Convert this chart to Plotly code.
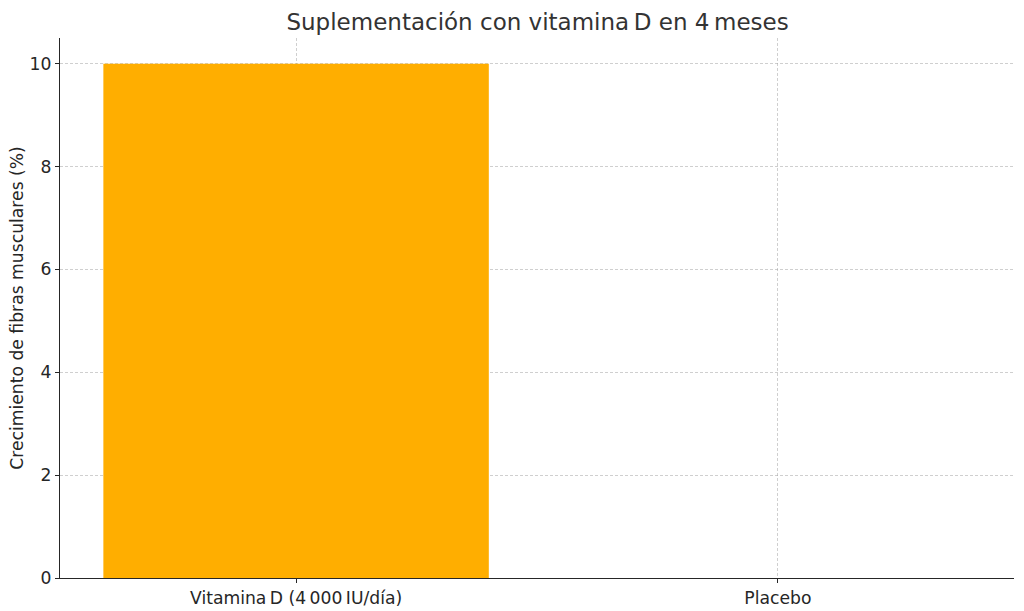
import plotly.graph_objects as go

NNBSP = "\u202f"  # narrow no-break space, as in the original labels

categories = [f"Vitamina{NNBSP}D (4{NNBSP}000{NNBSP}IU/día)", "Placebo"]
growth_pct = [10, 0]
y_ticks = [0, 2, 4, 6, 8, 10]

title = f"Suplementación con vitamina{NNBSP}D en 4{NNBSP}meses"
y_title = "Crecimiento de fibras musculares (%)"

fig = go.Figure(
    go.Bar(
        x=[0, 1], y=growth_pct, width=0.8,
        marker=dict(color="#FFAE00", line=dict(width=0)),
    )
)

# grid is drawn over the bars, semi-transparent
axis_common = dict(
    showline=True, linecolor="#262626", linewidth=1.2,
    ticks="outside", ticklen=4, tickcolor="#262626",
    showgrid=True, gridcolor="rgba(160,160,160,0.5)", griddash="3px,2px",
    gridwidth=0.8, zeroline=False, layer="above traces",
    tickfont=dict(size=17.2, color="#262626"),
    automargin=False,
)

fig.update_xaxes(
    range=[-0.49, 1.49], tickvals=[0, 1], ticktext=categories, **axis_common
)
fig.update_yaxes(
    range=[0, 10.5], tickvals=y_ticks,
    title=dict(text=y_title, font=dict(size=17.2, color="#262626"), standoff=1),
    **axis_common
)

fig.update_layout(
    width=1024, height=611,
    font=dict(family="DejaVu Sans", color="#262626"),
    title=dict(text=title, x=0.525, xanchor="center", y=0.964, yanchor="middle",
               font=dict(size=23, color="#333333")),
    plot_bgcolor="white", paper_bgcolor="white",
    margin=dict(l=60, r=10, t=38, b=33),
    showlegend=False, bargap=0.2,
)

# drop the default 8px page margin so the figure sits at the window corner
fig.write_html(
    "out.html",
    config={"displayModeBar": False},
    post_script="document.body.style.margin='0';",
)
